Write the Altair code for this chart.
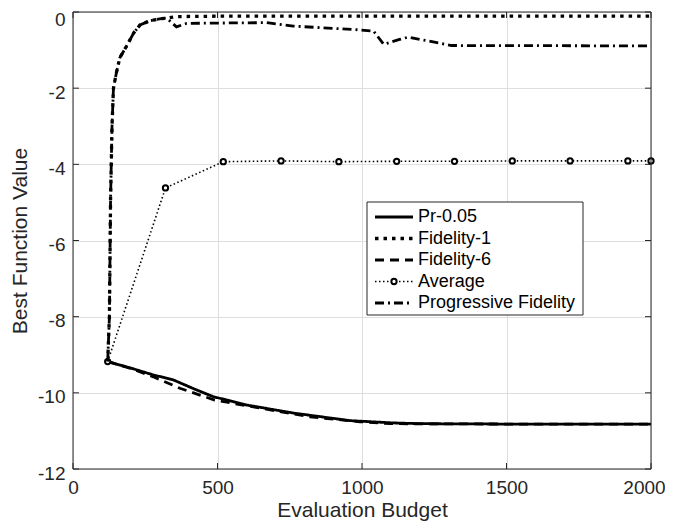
import altair as alt
import pandas as pd

# ---------------- data ----------------
series_names = ["Pr-0.05", "Fidelity-1", "Fidelity-6", "Average", "Progressive Fidelity"]

x_ticks = [0, 500, 1000, 1500, 2000]
y_ticks = [-12, -10, -8, -6, -4, -2, 0]

pr_x = [120, 200, 278, 347, 420, 485, 601, 762, 958, 1107, 1200, 1500, 2000]
pr_y = [-9.18, -9.35, -9.53, -9.66, -9.9, -10.1, -10.32, -10.53, -10.73, -10.79, -10.81, -10.82, -10.82]

f1_x = [120, 126, 130, 135, 140, 150, 162, 185, 210, 232, 266, 300, 324, 360, 500, 1000, 1500, 2000]
f1_y = [-9.18, -8.0, -4.9, -3.0, -2.0, -1.6, -1.2, -0.9, -0.55, -0.34, -0.23, -0.18, -0.16,
        -0.12, -0.11, -0.11, -0.11, -0.11]

f6_x = [120, 200, 278, 370, 490, 647, 820, 993, 1100, 1500, 2000]
f6_y = [-9.18, -9.36, -9.58, -9.88, -10.19, -10.4, -10.63, -10.76, -10.81, -10.82, -10.82]

avg_x = [120, 320, 520, 720, 920, 1120, 1320, 1520, 1720, 1920, 2000]
avg_y = [-9.18, -4.62, -3.93, -3.91, -3.93, -3.92, -3.92, -3.91, -3.91, -3.91, -3.91]

pf_x = [120, 126, 130, 135, 140, 150, 162, 185, 210, 232, 266, 300, 324, 358, 393, 500, 670,
        762, 993, 1040, 1075, 1130, 1160, 1310, 2000]
pf_y = [-9.18, -8.0, -4.9, -3.0, -2.0, -1.6, -1.2, -0.9, -0.55, -0.34, -0.23, -0.18, -0.16,
        -0.39, -0.30, -0.29, -0.28, -0.37, -0.47, -0.5, -0.85, -0.72, -0.66, -0.88, -0.89]

# ---------------- styles ----------------
FONT = "Liberation Sans"
INK = "#262626"
W, H = 578, 457

styles = {
    "Pr-0.05": dict(strokeDash=[1, 0], strokeWidth=2.8),
    "Fidelity-1": dict(strokeDash=[3.5, 5], strokeWidth=3.3),
    "Fidelity-6": dict(strokeDash=[9, 6], strokeWidth=2.8),
    "Average": dict(strokeDash=[1.5, 2.5], strokeWidth=1.6),
    "Progressive Fidelity": dict(strokeDash=[9, 4, 2, 4], strokeWidth=2.8),
}

xy = {
    "Pr-0.05": (pr_x, pr_y),
    "Fidelity-1": (f1_x, f1_y),
    "Fidelity-6": (f6_x, f6_y),
    "Average": (avg_x, avg_y),
    "Progressive Fidelity": (pf_x, pf_y),
}

X_AXIS = alt.Axis(title="Evaluation Budget", values=x_ticks, grid=True, ticks=False,
                  domain=False, labelPadding=9.5, labelFlush=False,
                  labelOffset={"condition": {"test": "datum.value == 2000", "value": -7},
                               "value": 0},
                  titleBaseline="alphabetic", titleY=47.5,
                  labelExpr="datum.value + ''")
Y_AXIS = alt.Axis(title="Best Function Value", values=y_ticks, grid=True, ticks=False,
                  domain=False, labelPadding=8, titlePadding=7,
                  labelOffset={"condition": {"test": "datum.value == 0", "value": 7.5},
                               "value": 4},
                  labelExpr="datum.value + ''")


def xenc(field):
    return alt.X(f"{field}:Q", scale=alt.Scale(domain=[0, 2000], nice=False, zero=False),
                 axis=X_AXIS)


def yenc(field):
    return alt.Y(f"{field}:Q", scale=alt.Scale(domain=[-12, 0], nice=False, zero=False),
                 axis=Y_AXIS)


data_layers = []

# inward ticks (MATLAB style), all four sides
xt = pd.DataFrame({"v": x_ticks})
yt = pd.DataFrame({"v": y_ticks})
data_layers.append(alt.Chart(xt).mark_rule(color=INK, strokeWidth=1).encode(
    x=xenc("v"), y=alt.value(H), y2=alt.value(H - 6)))
data_layers.append(alt.Chart(xt).mark_rule(color=INK, strokeWidth=1).encode(
    x=xenc("v"), y=alt.value(0), y2=alt.value(6)))
data_layers.append(alt.Chart(yt).mark_rule(color=INK, strokeWidth=1).encode(
    y=yenc("v"), x=alt.value(0), x2=alt.value(6)))
data_layers.append(alt.Chart(yt).mark_rule(color=INK, strokeWidth=1).encode(
    y=yenc("v"), x=alt.value(W), x2=alt.value(W - 6)))

for name in series_names:
    xs, ys = xy[name]
    df = pd.DataFrame({"x": xs, "y": ys, "series": name})
    st = styles[name]
    data_layers.append(
        alt.Chart(df).mark_line(color="black", strokeDash=st["strokeDash"],
                                strokeWidth=st["strokeWidth"]).encode(
            x=xenc("x"), y=yenc("y")))
    if name == "Average":
        data_layers.append(
            alt.Chart(df).mark_point(shape="circle", filled=True, fill="white",
                                     stroke="black", strokeWidth=2, size=28,
                                     opacity=1).encode(x=xenc("x"), y=yenc("y")))

# frame (box on)
frame_df = pd.DataFrame({"a": [0]})
data_layers.append(alt.Chart(frame_df).mark_rect(fillOpacity=0, stroke=INK, strokeWidth=1).encode(
    x=alt.value(0), x2=alt.value(W), y=alt.value(0), y2=alt.value(H)))

data_chart = alt.layer(*data_layers)

# ---------------- legend (drawn inside the plot) ----------------
leg_df = pd.DataFrame({"series": series_names, "row": list(range(len(series_names)))})
LY = alt.Y("row:Q", scale=alt.Scale(domain=[0, 4], range=[205, 291]), axis=None)

leg_layers = [
    alt.Chart(frame_df).mark_rect(fill="white", stroke=INK, strokeWidth=1).encode(
        x=alt.value(294), x2=alt.value(510), y=alt.value(190), y2=alt.value(303))
]
for name in series_names:
    st = styles[name]
    leg_layers.append(
        alt.Chart(leg_df).transform_filter(alt.datum.series == name).mark_rule(
            color="black", strokeDash=st["strokeDash"], strokeWidth=st["strokeWidth"]).encode(
            x=alt.value(302), x2=alt.value(340), y=LY))
leg_layers.append(
    alt.Chart(leg_df).transform_filter(alt.datum.series == "Average").mark_point(
        shape="circle", filled=True, fill="white", stroke="black", strokeWidth=2,
        size=28, opacity=1).encode(x=alt.value(321), y=LY))
leg_layers.append(
    alt.Chart(leg_df).mark_text(align="left", baseline="middle", font=FONT, fontSize=18,
                                color="black").encode(
        x=alt.value(345), y=LY, text="series:N"))

legend_chart = alt.layer(*leg_layers)

chart = alt.layer(data_chart, legend_chart).resolve_scale(y="independent").properties(
    width=W, height=H,
    padding={"left": 65, "top": 4, "right": 14, "bottom": 52},
    autosize=alt.AutoSizeParams(type="none"),
    background="white",
).configure_view(strokeWidth=0).configure_axis(
    labelFont=FONT, labelFontSize=19, labelColor=INK,
    titleFont=FONT, titleFontSize=21, titleColor=INK, titleFontWeight="normal",
    gridColor="#dedede", gridWidth=1, gridOpacity=1,
)

chart.save("out.html", embed_options={"renderer": "svg", "actions": False})
